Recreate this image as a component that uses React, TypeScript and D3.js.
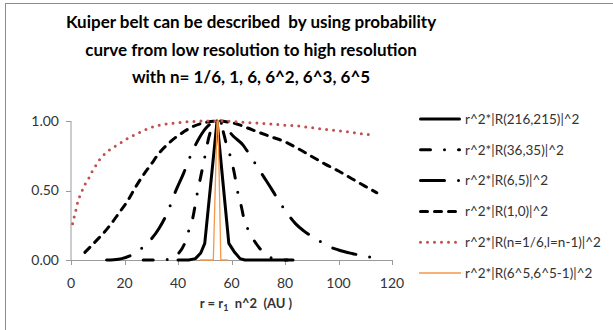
import React from "react";
import * as d3 from "d3";

const titleLines = [
  "Kuiper belt can be described  by using probability",
  "curve from low resolution to high resolution",
  "with n= 1/6, 1, 6, 6^2, 6^3, 6^5",
];
const xTicks = [0, 20, 40, 60, 80, 100, 120];
const yTicks = [0, 0.5, 1.0];

const seriesN216: [number, number][] = [
  [40, 0], [44, 0], [46.5, 0.01], [48.5, 0.05], [50, 0.12], [54.6, 1.0],
  [59, 0.12], [61, 0.06], [63.2, 0.01], [65, 0], [70, 0], [75, 0], [83, 0],
];
const seriesN36: [number, number][] = [
  [27, 0], [33, 0], [37, 0.005], [39.5, 0.035], [42.5, 0.12], [44, 0.21], [45.5, 0.3],
  [47, 0.46], [48.5, 0.6], [50, 0.74], [51.5, 0.88], [53, 0.97], [54.6, 1.0],
  [56.5, 0.95], [58, 0.84], [59.5, 0.75], [61, 0.63], [62.2, 0.5], [63.5, 0.4],
  [65, 0.27], [66.5, 0.21], [68, 0.155], [70.5, 0.085], [74.4, 0.02], [77, 0.005], [81, 0],
];
const seriesN6: [number, number][] = [
  [13.3, 0], [16, 0.002], [19, 0.01], [22, 0.03], [25, 0.06], [27, 0.095], [30, 0.15],
  [33, 0.23], [36, 0.34], [39, 0.49], [42, 0.62], [45, 0.765], [48, 0.88], [51, 0.96],
  [54.6, 1.0], [57, 0.97], [60.7, 0.89], [64.4, 0.825], [66, 0.78], [69, 0.69], [72, 0.6],
  [75, 0.51], [78, 0.415], [81, 0.332], [84, 0.26], [87, 0.21], [90, 0.17], [93, 0.135],
  [96, 0.1], [100, 0.072], [105, 0.047], [111, 0.024], [116, 0.007],
];
const seriesN1: [number, number][] = [
  [5.2, 0.055], [8, 0.11], [10, 0.15], [12, 0.19], [15, 0.26], [18, 0.34], [21, 0.42],
  [24, 0.52], [27, 0.61], [30, 0.69], [33, 0.77], [36, 0.83], [39, 0.88], [42, 0.92],
  [45, 0.955], [48, 0.978], [51, 0.993], [54.6, 1.0], [58, 0.995], [62, 0.978], [66, 0.95],
  [70, 0.92], [75, 0.885], [80, 0.85], [85, 0.8], [90, 0.745], [95, 0.69], [100, 0.64],
  [105, 0.585], [110, 0.53], [114.3, 0.484],
];
const seriesN1over6: [number, number][] = [
  [0.6, 0.26], [1.2, 0.31], [1.8, 0.355], [2.3, 0.4], [3.1, 0.45], [4.2, 0.5], [5.4, 0.55],
  [6.7, 0.59], [8, 0.64], [9.3, 0.68], [11, 0.73], [13, 0.77], [15, 0.8], [17.5, 0.83],
  [20, 0.86], [22, 0.885], [24.5, 0.905], [27, 0.93], [29.5, 0.95], [33, 0.97], [37, 0.982],
  [41, 0.99], [45, 0.996], [50, 1.0], [55, 1.0], [60, 0.997], [65, 0.99], [70, 0.985],
  [75, 0.978], [80, 0.97], [85, 0.964], [90, 0.952], [95, 0.94], [100, 0.93], [106, 0.915],
  [112.4, 0.9],
];
const seriesN7776: [number, number][] = [
  [48.2, 0], [53.2, 0], [54.6, 1.0], [55.0, 1.0], [56.0, 0], [58.6, 0],
];

const legendLabels = [
  "r^2*|R(216,215)|^2",
  "r^2*|R(36,35)|^2",
  "r^2*|R(6,5)|^2",
  "r^2*|R(1,0)|^2",
  "r^2*|R(n=1/6,l=n-1)|^2",
  "r^2*|R(6^5,6^5-1)|^2",
];

type Style = { color: string; width: number; dash?: string; cap: "round" | "butt"; smooth: boolean };
const styles: Style[] = [
  { color: "#000", width: 3, cap: "round", smooth: false },
  { color: "#000", width: 3, dash: "10,14,0,14", cap: "round", smooth: true },
  { color: "#000", width: 3, dash: "24,14,0,14", cap: "round", smooth: true },
  { color: "#000", width: 3, dash: "7,7", cap: "round", smooth: true },
  { color: "#C0504D", width: 3, dash: "0,7", cap: "round", smooth: true },
  { color: "#F79646", width: 1.3, cap: "butt", smooth: false },
];
const allSeries = [seriesN216, seriesN36, seriesN6, seriesN1, seriesN1over6, seriesN7776];

export default function App() {
  const W = 613, H = 330;
  const x = d3.scaleLinear().domain([0, 120]).range([71, 392]);
  const y = d3.scaleLinear().domain([0, 1]).range([260, 121]);
  const font = "Lato, 'Open Sans', sans-serif";
  const axisColor = "#9a9a9a";
  const textColor = "#333333";

  const mkLine = (smooth: boolean) =>
    d3.line<[number, number]>()
      .x((d) => x(d[0]))
      .y((d) => y(d[1]))
      .curve(smooth ? d3.curveMonotoneX : d3.curveLinear);

  const legendX0 = 419, legendX1 = 461, legendY0 = 119, legendStep = 30.8;

  return (
    <svg width={W} height={H} style={{ position: "absolute", left: 0, top: 0, background: "#fff" }} fontFamily={font}>
      <rect x={0} y={0} width={W} height={H} fill="#fff" />
      <rect x={5.5} y={3.5} width={700} height={400} fill="none" stroke="#8c8c8c" strokeWidth={1} />
      {titleLines.map((t, i) => (
        <text key={i} x={251} y={28 + i * 27.5} textAnchor="middle" fontWeight="bold" fontSize={17} fill="#000" style={{ whiteSpace: "pre" }}>
          {t}
        </text>
      ))}
      {/* axes */}
      <line x1={x(0)} x2={x(0)} y1={y(1)} y2={y(0)} stroke={axisColor} />
      {yTicks.map((t) => (
        <g key={"y" + t}>
          <line x1={x(0) - 5} x2={x(0)} y1={Math.round(y(t)) + 0.5} y2={Math.round(y(t)) + 0.5} stroke={axisColor} />
          <text x={59} y={y(t)} dy="0.35em" textAnchor="end" fontSize={14} fill={textColor}>
            {d3.format(".2f")(t)}
          </text>
        </g>
      ))}
      <line x1={x(0)} x2={x(120)} y1={Math.round(y(0)) + 0.5} y2={Math.round(y(0)) + 0.5} stroke={axisColor} />
      {xTicks.map((t) => (
        <g key={"x" + t}>
          <line x1={Math.round(x(t)) + 0.5} x2={Math.round(x(t)) + 0.5} y1={y(0)} y2={y(0) + 5} stroke={axisColor} />
          <text x={x(t)} y={283} dy="0.35em" textAnchor="middle" fontSize={14} fill={textColor}>
            {t}
          </text>
        </g>
      ))}
      <text x={246} y={308} textAnchor="middle" fontWeight="bold" fontSize={13} fill={textColor} style={{ whiteSpace: "pre" }}>
        {"r = r"}
        <tspan fontSize={9} dy={3}>1</tspan>
        <tspan dy={-3}>{"  n^2  (AU )"}</tspan>
      </text>
      {/* series */}
      {allSeries.map((s, i) => {
        const st = styles[i];
        return (
          <path
            key={"s" + i}
            d={mkLine(st.smooth)(s) || ""}
            fill="none"
            stroke={st.color}
            strokeWidth={st.width}
            strokeDasharray={st.dash}
            strokeLinecap={st.cap}
            strokeLinejoin="round"
          />
        );
      })}
      {/* legend */}
      {legendLabels.map((lab, i) => {
        const st = styles[i];
        const ly = legendY0 + i * legendStep;
        return (
          <g key={"l" + i}>
            <line
              x1={legendX0 + (st.cap === "round" ? 1.5 : 0)}
              x2={legendX1 - (st.cap === "round" ? 1.5 : 0)}
              y1={ly}
              y2={ly}
              stroke={st.color}
              strokeWidth={st.width}
              strokeDasharray={st.dash}
              strokeLinecap={st.cap}
            />
            <text x={465} y={ly} dy="0.35em" fontSize={13.5} fill={textColor}>
              {lab}
            </text>
          </g>
        );
      })}
    </svg>
  );
}
